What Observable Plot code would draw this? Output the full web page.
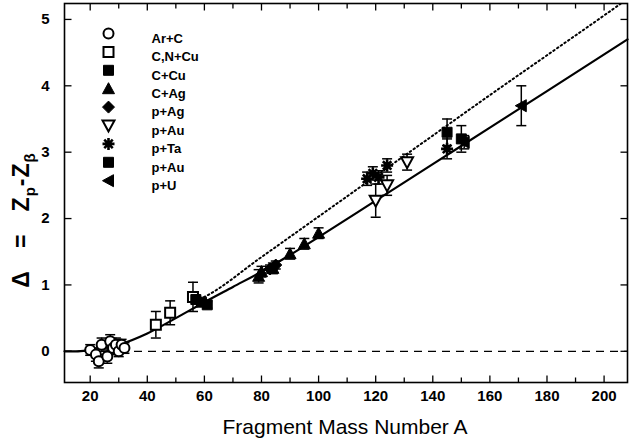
<!DOCTYPE html>
<html><head><meta charset="utf-8">
<script src="https://cdn.jsdelivr.net/npm/d3@7"></script>
<script src="https://cdn.jsdelivr.net/npm/@observablehq/plot@0.6"></script>
<style>
body{margin:0;background:#fff}
</style>
</head><body><div id="chart"></div>
<script>
// ---- data ----
const seriesNames = ["Ar+C","C,N+Cu","C+Cu","C+Ag","p+Ag","p+Au","p+Ta","p+Au","p+U"];
const arC_A = [20, 22, 23, 24, 26, 27, 28, 29, 30, 31, 32];
const arC_D = [0.02, -0.05, -0.15, 0.1, -0.08, 0.15, 0.05, 0.1, 0.0, 0.1, 0.05];
const arC_E = [0.08, 0.1, 0.1, 0.1, 0.1, 0.1, 0.1, 0.1, 0.08, 0.08, 0.08];
const cnCu_A = [43, 48, 56];
const cnCu_D = [0.4, 0.58, 0.82];
const cnCu_E = [0.2, 0.18, 0.22];
const cCu_A = [57, 59, 61];
const cCu_D = [0.78, 0.74, 0.7];
const cCu_E = [0.05, 0.05, 0.05];
const cAg_A = [79, 80, 84, 90, 95, 100];
const cAg_D = [1.13, 1.2, 1.25, 1.47, 1.62, 1.78];
const cAg_E = [0.1, 0.08, 0.08, 0.08, 0.08, 0.08];
const pAg_A = [83, 85];
const pAg_D = [1.24, 1.3];
const pAg_E = [0.06, 0.06];
const pAuO_A = [120, 124, 131];
const pAuO_D = [2.27, 2.5, 2.85];
const pAuO_E = [0.25, 0.15, 0.12];
const pTa_A = [117, 119, 121, 124, 145];
const pTa_D = [2.6, 2.68, 2.62, 2.8, 3.05];
const pTa_E = [0.1, 0.1, 0.1, 0.1, 0.15];
const pAuF_A = [145, 150];
const pAuF_D = [3.3, 3.2];
const pAuF_E = [0.2, 0.2];
const pU_A = [151, 171];
const pU_D = [3.15, 3.7];
const pU_E = [0.1, 0.3];
// curves
const solid_A = [11, 15, 20, 25, 30, 40, 50, 60, 70, 80, 90, 100, 120, 140, 160, 180, 208.2];
const solid_D = [0, 0, 0.02, 0.05, 0.1, 0.27, 0.5, 0.74, 0.97, 1.2, 1.45, 1.72, 2.27, 2.82, 3.37, 3.92, 4.7];
const dotted_A = [57, 60, 80, 100, 120, 140, 160, 180, 200, 208.2];
const dotted_D = [0.76, 0.82, 1.42, 2.03, 2.64, 3.25, 3.86, 4.46, 5.06, 5.31];
const xMajor = [20, 40, 60, 80, 100, 120, 140, 160, 180, 200];
const xMinor = [30, 50, 70, 90, 110, 130, 150, 170, 190];
const yMajor = [0, 1, 2, 3, 4, 5];

// ---- symbols ----
const S = {
  circle: {draw(c){c.moveTo(5,0); c.arc(0,0,5,0,2*Math.PI); c.closePath();}},
  square: {draw(c){c.rect(-5,-5,10,10);}},
  triUp: {draw(c){c.moveTo(0,-6); c.lineTo(6,5); c.lineTo(-6,5); c.closePath();}},
  diamond: {draw(c){c.moveTo(0,-6); c.lineTo(6,0); c.lineTo(0,6); c.lineTo(-6,0); c.closePath();}},
  triDown: {draw(c){c.moveTo(0,6); c.lineTo(-6,-5); c.lineTo(6,-5); c.closePath();}},
  star: {draw(c){for (let k=0;k<4;k++){const a=k*Math.PI/4, r=6; c.moveTo(-r*Math.cos(a),-r*Math.sin(a)); c.lineTo(r*Math.cos(a),r*Math.sin(a));}}},
  triLeft: {draw(c){c.moveTo(-6,0); c.lineTo(5,-6); c.lineTo(5,6); c.closePath();}}
};
const styles = [
  {sym:S.circle, fill:"white", stroke:"black", sw:2},
  {sym:S.square, fill:"white", stroke:"black", sw:2},
  {sym:S.square, fill:"black", stroke:"black", sw:1},
  {sym:S.triUp, fill:"black", stroke:"black", sw:1},
  {sym:S.diamond, fill:"black", stroke:"black", sw:1},
  {sym:S.triDown, fill:"white", stroke:"black", sw:2},
  {sym:S.star, fill:"none", stroke:"black", sw:2.6},
  {sym:S.square, fill:"black", stroke:"black", sw:1},
  {sym:S.triLeft, fill:"black", stroke:"black", sw:1}
];
const series = [
  [arC_A, arC_D, arC_E], [cnCu_A, cnCu_D, cnCu_E], [cCu_A, cCu_D, cCu_E],
  [cAg_A, cAg_D, cAg_E], [pAg_A, pAg_D, pAg_E], [pAuO_A, pAuO_D, pAuO_E],
  [pTa_A, pTa_D, pTa_E], [pAuF_A, pAuF_D, pAuF_E], [pU_A, pU_D, pU_E]
];
const tables = series.map(([A, D, E], i) => A.map((a, j) => ({A: a, D: D[j], lo: D[j]-E[j], hi: D[j]+E[j], s: i})));
const solid = solid_A.map((a, i) => ({A: a, D: solid_D[i]}));
const dotted = dotted_A.map((a, i) => ({A: a, D: dotted_D[i]}));

const cap = {draw(c){c.moveTo(-5,0); c.lineTo(5,0);}};
const tickB = (L) => ({draw(c){c.moveTo(0,0); c.lineTo(0,-L);}});
const tickT = (L) => ({draw(c){c.moveTo(0,0); c.lineTo(0,L);}});
const tickL = (L) => ({draw(c){c.moveTo(0,0); c.lineTo(L,0);}});
const tickR = (L) => ({draw(c){c.moveTo(0,0); c.lineTo(-L,0);}});

const marks = [];
marks.push(Plot.ruleY([0], {stroke:"black", strokeWidth:1.2, strokeDasharray:"8,6"}));
marks.push(Plot.line(solid, {x:"A", y:"D", curve:"monotone-x", stroke:"black", strokeWidth:2.2}));
marks.push(Plot.line(dotted, {x:"A", y:"D", curve:"monotone-x", stroke:"black", strokeWidth:2, strokeDasharray:"1.5,3", clip:true}));
// error bars
tables.forEach(t => {
  marks.push(Plot.ruleX(t, {x:"A", y1:"lo", y2:"hi", stroke:"black", strokeWidth:1.5}));
  marks.push(Plot.dot(t, {x:"A", y:"lo", symbol:cap, stroke:"black", strokeWidth:1.5, fill:"none"}));
  marks.push(Plot.dot(t, {x:"A", y:"hi", symbol:cap, stroke:"black", strokeWidth:1.5, fill:"none"}));
});
tables.forEach((t, i) => {
  const st = styles[i];
  marks.push(Plot.dot(t, {x:"A", y:"D", symbol:st.sym, fill:st.fill, stroke:st.stroke, strokeWidth:st.sw}));
});
// legend
seriesNames.forEach((name, i) => {
  const st = styles[i];
  marks.push(Plot.dot([name], {frameAnchor:"top-left", dx:44, dy:30 + i*18.4, symbol:st.sym, fill:st.fill, stroke:st.stroke, strokeWidth:st.sw}));
  marks.push(Plot.text([name], {text:d=>d, frameAnchor:"top-left", dx:87, dy:30 + i*18.4, textAnchor:"start", fontSize:13, fontWeight:"bold", fill:"black"}));
});
// inward ticks
marks.push(Plot.dot(xMajor, {x:d=>d, frameAnchor:"bottom", symbol:tickB(7), stroke:"black", strokeWidth:1.3}));
marks.push(Plot.dot(xMinor, {x:d=>d, frameAnchor:"bottom", symbol:tickB(5), stroke:"black", strokeWidth:1.3}));
marks.push(Plot.dot(xMajor, {x:d=>d, frameAnchor:"top", symbol:tickT(7), stroke:"black", strokeWidth:1.3}));
marks.push(Plot.dot(xMinor, {x:d=>d, frameAnchor:"top", symbol:tickT(5), stroke:"black", strokeWidth:1.3}));
marks.push(Plot.dot(yMajor, {y:d=>d, frameAnchor:"left", symbol:tickL(7), stroke:"black", strokeWidth:1.3}));
marks.push(Plot.dot(yMajor, {y:d=>d, frameAnchor:"right", symbol:tickR(7), stroke:"black", strokeWidth:1.3}));
// tick labels (bold)
marks.push(Plot.text(xMajor, {x:d=>d, text:d=>String(d), frameAnchor:"bottom", dy:18, fontSize:15, fontWeight:"bold", fill:"black"}));
marks.push(Plot.text(yMajor, {y:d=>d, text:d=>String(d), frameAnchor:"left", dx:-15, textAnchor:"end", fontSize:15, fontWeight:"bold", fill:"black"}));
marks.push(Plot.frame({stroke:"black", strokeWidth:1.6}));

const svg = Plot.plot({
  width: 634, height: 440,
  marginLeft: 64, marginRight: 7, marginTop: 3, marginBottom: 58,
  style: {fontFamily: "'Liberation Sans', Arial, sans-serif", color:"black", background:"white"},
  x: {domain: [11, 208.2], axis: null},
  y: {domain: [-0.47, 5.24], axis: null},
  marks
});
const g = d3.select(svg);
g.append("text")
  .attr("x", 345).attr("y", 434).attr("text-anchor", "middle")
  .attr("font-size", 21).attr("font-family", "'Liberation Sans', Arial, sans-serif")
  .text("Fragment Mass Number A");
const yl = g.append("text")
  .attr("transform", "translate(29,220) rotate(-90)").attr("text-anchor", "middle")
  .style("white-space", "pre").attr("letter-spacing", 1)
  .attr("font-size", 23).attr("font-weight", "bold").attr("font-family", "'Liberation Sans', Arial, sans-serif");
yl.append("tspan").text("\u0394   =   Z");
yl.append("tspan").attr("font-size", 15).attr("dy", 6).text("p");
yl.append("tspan").attr("dy", -6).text("-Z");
yl.append("tspan").attr("font-size", 15).attr("dy", 6).text("\u03b2");
document.getElementById("chart").appendChild(svg);
</script>
</body></html>
